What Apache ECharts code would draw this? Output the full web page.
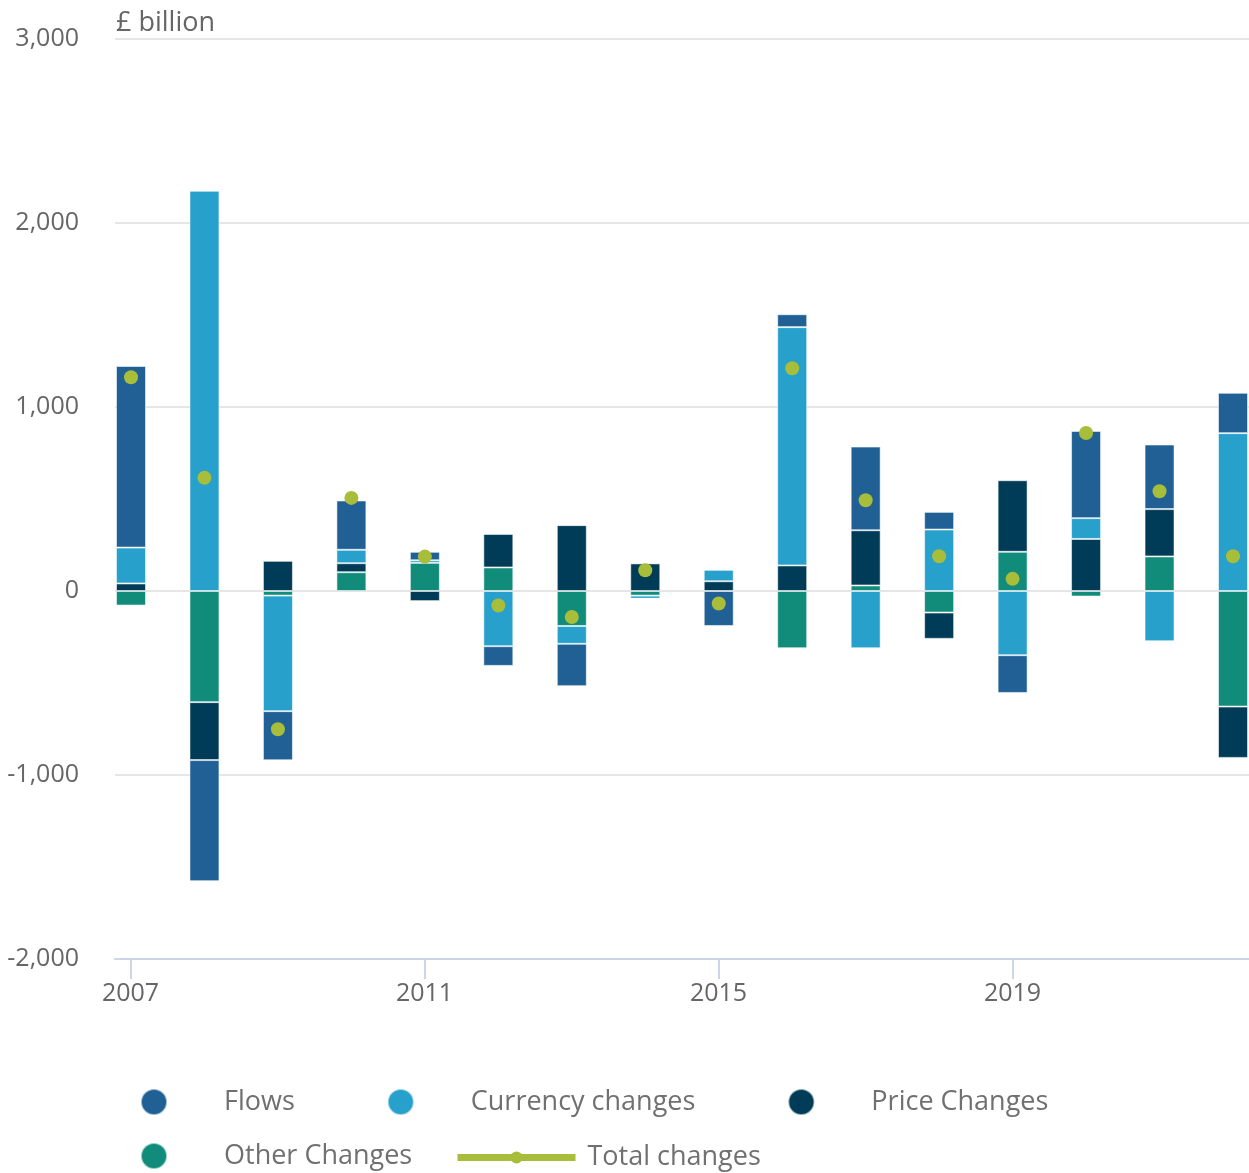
<!DOCTYPE html>
<html>
<head>
<meta charset="utf-8">
<style>
html,body{margin:0;padding:0;background:#fff;}
#chart{width:1249px;height:1173px;}
</style>
<script src="https://cdn.jsdelivr.net/npm/echarts@6/dist/echarts.min.js"></script>
</head>
<body>
<div id="chart"></div>
<script>
const years = ['2007', '2008', '2009', '2010', '2011', '2012', '2013', '2014', '2015', '2016', '2017', '2018', '2019', '2020', '2021', '2022'];
const tickYears = [2007, 2011, 2015, 2019];
const flows    = [987, -658, -267, 268, 46, -107, -230, 0, -190, 70, 455, 96, -205, 474, 351, 219];
const currency = [195, 2175, -628, 73, 14, -300, -97, -17, 62, 1295, -311, 334, -349, 113, -273, 858];
const price    = [41, -315, 164, 49, -55, 182, 358, 150, 53, 139, 300, -143, 389, 283, 257, -279];
const other    = [-79, -604, -25, 102, 153, 128, -190, -25, 0, -311, 30, -117, 213, -30, 188, -628];
const total    = [1162, 615, -751, 506, 187, -79, -141, 113, -68, 1211, 493, 189, 66, 859, 542, 189];

const FONT = '"Open Sans", sans-serif';
const colors = {
  flows: '#206095', currency: '#27a0cc', price: '#003c57', other: '#118c7b', total: '#a8bd3a'
};

function barSeries(name, arr, color) {
  return {
    name: name, type: 'bar', stack: 'all', barWidth: 30, clip: false,
    xAxisIndex: 1, yAxisIndex: 1,
    data: arr,
    itemStyle: { color: color, borderColor: 'rgba(255,255,255,0.55)', borderWidth: 1 },
    emphasis: { disabled: true }
  };
}

const chart = echarts.init(document.getElementById('chart'), null, { renderer: 'canvas' });
const legendText = { fontFamily: FONT, fontSize: 27, color: '#707070' };
chart.setOption({
  animation: false,
  textStyle: { fontFamily: FONT },
  title: {
    text: '£ billion', left: 111, top: 5,
    textStyle: { fontFamily: FONT, fontSize: 27, fontWeight: 'normal', color: '#666666' }
  },
  grid: [
    { left: 115, right: 0, top: 39, bottom: 214, containLabel: false },
    { left: 131, right: 16, top: 39, bottom: 214, containLabel: false }
  ],
  xAxis: [
    {
      type: 'value', gridIndex: 0, min: 2006.789, max: 2022.218,
      splitLine: { show: false },
      axisLine: { onZero: false, lineStyle: { color: '#ccd6eb', width: 2 } },
      axisTick: { show: true, customValues: tickYears, length: 20, lineStyle: { color: '#ccd6eb', width: 2 } },
      axisLabel: { customValues: tickYears, margin: 22, fontSize: 25, color: '#666666', fontFamily: FONT,
                   formatter: v => String(v) }
    },
    {
      type: 'category', gridIndex: 1, data: years, boundaryGap: false, show: false
    }
  ],
  yAxis: [
    {
      type: 'value', gridIndex: 0, min: -2000, max: 3000, interval: 1000,
      axisLine: { show: false }, axisTick: { show: false },
      splitLine: { lineStyle: { color: '#e6e6e6', width: 2 } },
      axisLabel: { margin: 36, fontSize: 25, color: '#666666', fontFamily: FONT, padding: [6, 0, 0, 0],
                   formatter: v => (v < 0 ? '-' : '') + Math.abs(v).toLocaleString('en-GB') }
    },
    {
      type: 'value', gridIndex: 1, min: -2000, max: 3000, interval: 1000, show: false,
      splitLine: { show: false }
    }
  ],
  legend: [
    {
      data: [
        { name: 'Flows', icon: 'circle' },
        { name: 'Currency changes', icon: 'circle' },
        { name: 'Price Changes', icon: 'circle' }
      ],
      left: 140, top: 1088, itemWidth: 130, itemHeight: 26, itemGap: 92, padding: 0,
      selectedMode: false, textStyle: legendText
    },
    {
      data: [{ name: 'Other Changes', icon: 'circle' }],
      left: 140, top: 1142, itemWidth: 130, itemHeight: 26, itemGap: 92, padding: 0,
      selectedMode: false, textStyle: legendText
    },
    {
      data: ['Total changes'],
      left: 454, top: 1144, itemWidth: 118, itemHeight: 15, padding: 0,
      selectedMode: false,
      lineStyle: { width: 7, color: colors.total, opacity: 1 },
      itemStyle: { color: colors.total, opacity: 1 },
      textStyle: Object.assign({}, legendText, { padding: [0, 0, 0, 7] })
    }
  ],
  series: [
    barSeries('Other Changes', other, colors.other),
    barSeries('Price Changes', price, colors.price),
    barSeries('Currency changes', currency, colors.currency),
    barSeries('Flows', flows, colors.flows),
    {
      name: 'Total changes', type: 'line', data: total,
      xAxisIndex: 1, yAxisIndex: 1, clip: false,
      symbol: 'circle', symbolSize: 14, showSymbol: true, showAllSymbol: true,
      lineStyle: { width: 0, opacity: 0, color: colors.total },
      itemStyle: { color: colors.total },
      emphasis: { disabled: true }, z: 5
    }
  ]
});
</script>
</body>
</html>
